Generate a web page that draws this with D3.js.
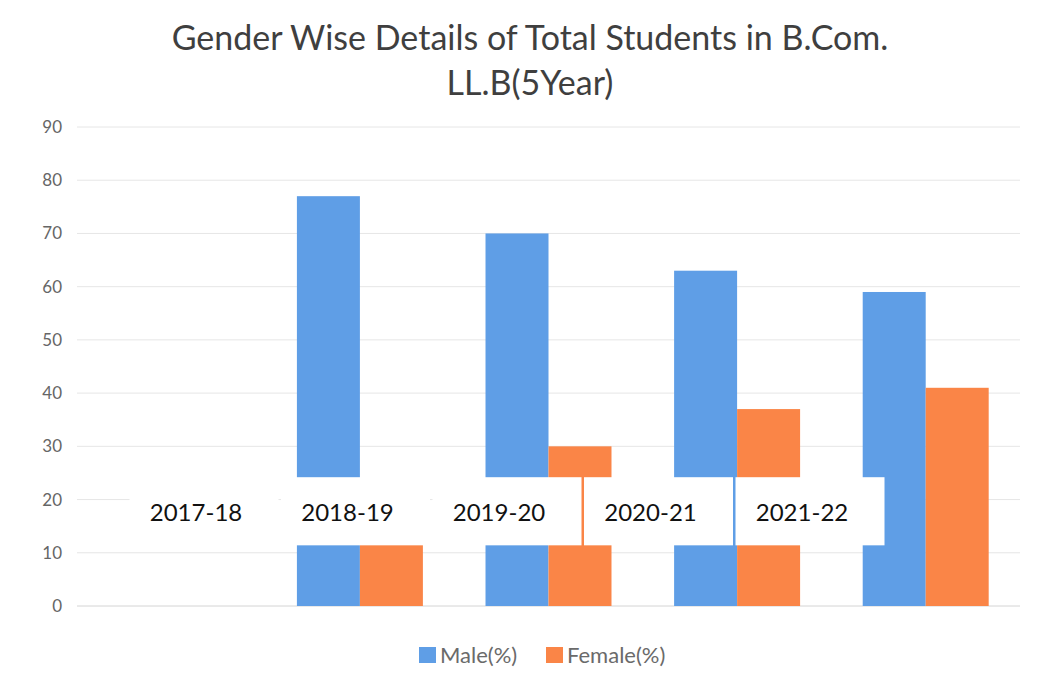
<!DOCTYPE html>
<html>
<head>
<meta charset="utf-8">
<script src="https://cdn.jsdelivr.net/npm/d3@7"></script>
<style>
  body { margin: 0; background: #fff; }
  text { font-family: Lato, "Open Sans", sans-serif; }
</style>
</head>
<body>
<svg id="chart" width="1037" height="684"></svg>
<script>
const years = ["2017-18", "2018-19", "2019-20", "2020-21", "2021-22"];
const male = [0, 77, 70, 63, 59];
const female = [0, 23, 30, 37, 41];
const series = ["Male(%)", "Female(%)"];
const yTicks = [0, 10, 20, 30, 40, 50, 60, 70, 80, 90];
const titleLines = ["Gender Wise Details of Total Students in B.Com.", "LL.B(5Year)"];

const colors = { "Male(%)": "#5f9ee6", "Female(%)": "#fa8547" };
const svg = d3.select("#chart");

const margin = { left: 77, right: 17, top: 127, bottom: 78 };
const W = 1037, H = 684;

const y = d3.scaleLinear().domain([0, 90]).range([H - margin.bottom, margin.top]);
const x0 = d3.scaleBand().domain(years)
  .range([margin.left, W - margin.right])
  .paddingInner(0.332).paddingOuter(0.166);
const x1 = d3.scaleBand().domain(series).range([0, x0.bandwidth()]);

// label row (the year text boxes sitting inside the plot)
const xLabel = d3.scalePoint().domain(years).range([196, 802]);

// gridlines
svg.append("g")
  .selectAll("line")
  .data(yTicks)
  .join("line")
  .attr("x1", margin.left)
  .attr("x2", W - margin.right)
  .attr("y1", (d) => y(d))
  .attr("y2", (d) => y(d))
  .attr("stroke", (d) => (d === 0 ? "#d4d4d4" : "#e6e6e6"))
  .attr("stroke-width", 1);

// y axis labels
const yAxis = svg.append("g")
  .attr("transform", `translate(${margin.left - 15},0)`)
  .call(d3.axisLeft(y).tickValues(yTicks).tickSize(0).tickPadding(0));
yAxis.select(".domain").remove();
yAxis.selectAll("text")
  .attr("fill", "#666")
  .style("font-size", "17px")
  .style("font-family", "Lato, sans-serif");

// bars
const rows = years.map((yr, i) => ({ year: yr, values: [male[i], female[i]] }));
svg.append("g")
  .selectAll("g")
  .data(rows)
  .join("g")
  .attr("transform", (d) => `translate(${x0(d.year)},0)`)
  .selectAll("rect")
  .data((d) => series.map((s, j) => ({ key: s, value: d.values[j] })))
  .join("rect")
  .attr("x", (d) => x1(d.key))
  .attr("y", (d) => y(d.value))
  .attr("width", x1.bandwidth())
  .attr("height", (d) => y(0) - y(d.value))
  .attr("fill", (d) => colors[d.key]);

// year label boxes (white fill, covering the bars)
const boxW = 149;
const lab = svg.append("g")
  .selectAll("g")
  .data(years)
  .join("g");
lab.append("rect")
  .attr("x", (d) => xLabel(d) + 8 - boxW / 2)
  .attr("y", y(24.2))
  .attr("width", boxW)
  .attr("height", y(11.4) - y(24.2))
  .attr("fill", "#fff");
lab.append("text")
  .attr("x", (d) => xLabel(d))
  .attr("y", y(17.6))
  .attr("dy", "0.35em")
  .attr("text-anchor", "middle")
  .attr("fill", "#111")
  .style("font-size", "24px")
  .text((d) => d);

// title
svg.append("g")
  .selectAll("text")
  .data(titleLines)
  .join("text")
  .attr("x", 530)
  .attr("y", (d, i) => 50 + i * 45)
  .attr("text-anchor", "middle")
  .attr("fill", "#3f3f3f")
  .style("font-size", "34px")
  .text((d) => d);

// legend
const legend = svg.append("g").attr("transform", "translate(419,655)");
const legItems = legend.selectAll("g")
  .data(series)
  .join("g")
  .attr("transform", (d, i) => `translate(${i * 127},0)`);
legItems.append("rect")
  .attr("x", 0)
  .attr("y", -8)
  .attr("width", 17)
  .attr("height", 16)
  .attr("fill", (d) => colors[d]);
legItems.append("text")
  .attr("x", 21)
  .attr("y", 0)
  .attr("dy", "0.35em")
  .attr("fill", "#6a6a6a")
  .style("font-size", "22px")
  .text((d) => d);
</script>
</body>
</html>
